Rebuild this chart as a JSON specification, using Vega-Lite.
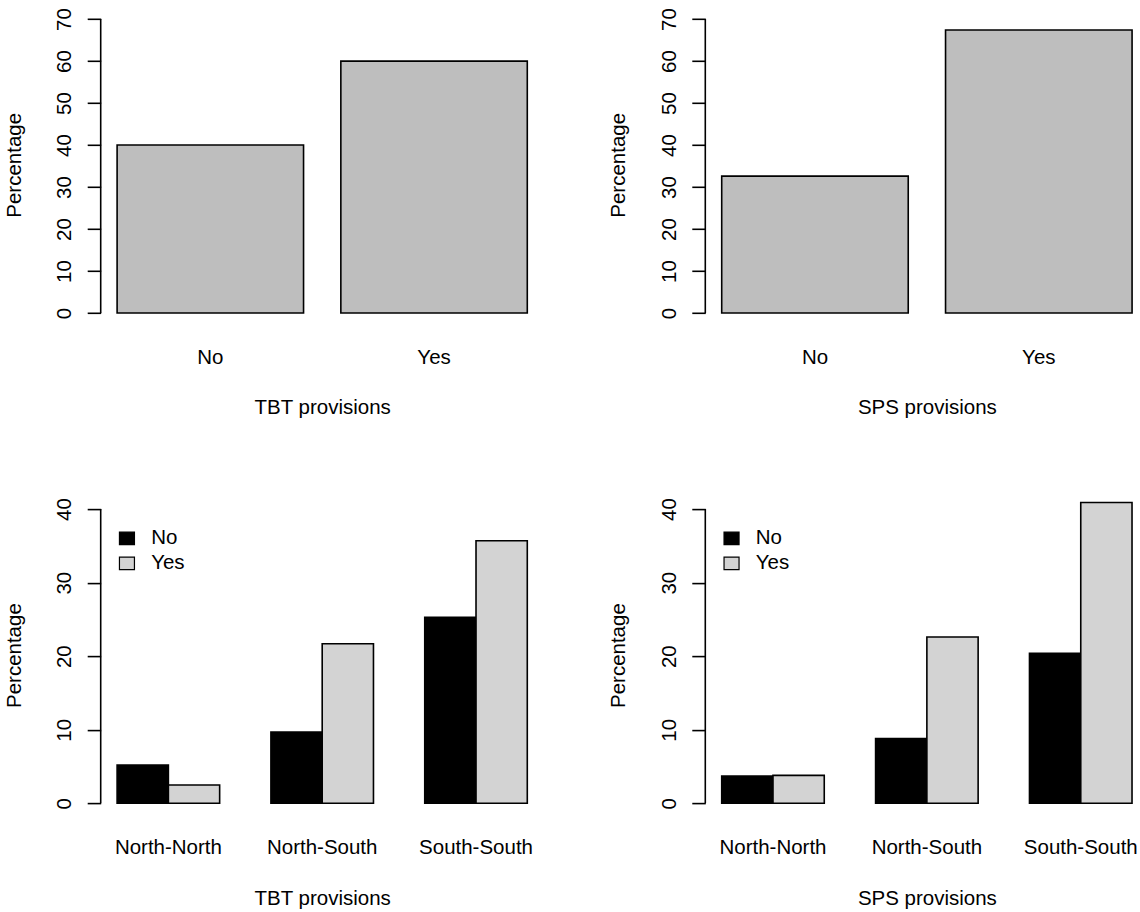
{
  "$schema": "https://vega.github.io/schema/vega-lite/v6.json",
  "padding": {"left": 3.7, "top": 4.8, "right": 0, "bottom": 0},
  "background": "white",
  "datasets": {
    "tbt": [{"provision": "No", "percentage": 40.0}, {"provision": "Yes", "percentage": 60.0}],
    "sps": [{"provision": "No", "percentage": 32.6}, {"provision": "Yes", "percentage": 67.4}],
    "tbt_pair": [
      {"pair": "North-North", "provision": "No", "percentage": 5.2},
      {"pair": "North-North", "provision": "Yes", "percentage": 2.5},
      {"pair": "North-South", "provision": "No", "percentage": 9.7},
      {"pair": "North-South", "provision": "Yes", "percentage": 21.7},
      {"pair": "South-South", "provision": "No", "percentage": 25.3},
      {"pair": "South-South", "provision": "Yes", "percentage": 35.7}
    ],
    "sps_pair": [
      {"pair": "North-North", "provision": "No", "percentage": 3.7},
      {"pair": "North-North", "provision": "Yes", "percentage": 3.8},
      {"pair": "North-South", "provision": "No", "percentage": 8.8},
      {"pair": "North-South", "provision": "Yes", "percentage": 22.6},
      {"pair": "South-South", "provision": "No", "percentage": 20.4},
      {"pair": "South-South", "provision": "Yes", "percentage": 40.9}
    ]
  },
  "columns": 2,
  "bounds": "flush",
  "spacing": {"row": 170.3, "column": 161.6},
  "resolve": {"scale": {"color": "independent"}, "legend": {"color": "independent"}},
  "concat": [
    {
      "width": 443, "height": 320,
      "data": {"name": "tbt"},
      "layer": [
        {
          "mark": {"type": "bar", "fill": "#bebebe", "stroke": "black", "strokeWidth": 1.6},
          "encoding": {
            "x": {"field": "provision", "type": "nominal", "sort": ["No", "Yes"],
                  "scale": {"paddingInner": 0.16667, "paddingOuter": 0.07333},
                  "axis": {"title": "TBT provisions"}},
            "y": {"field": "percentage", "type": "quantitative",
                  "scale": {"domain": [-2.8, 73.4], "nice": false},
                  "axis": {"title": "Percentage", "values": [0, 10, 20, 30, 40, 50, 60, 70]}}
          }
        },
        {
          "data": {"values": [{}]},
          "mark": {"type": "rule", "stroke": "black", "strokeWidth": 1.6},
          "encoding": {
            "x": {"datum": 0, "type": "quantitative", "scale": {"domain": [0, 1]}, "axis": null},
            "y": {"datum": 0, "type": "quantitative"},
            "y2": {"datum": 70}
          }
        }
      ],
      "resolve": {"scale": {"x": "independent"}}
    },
    {
      "width": 434.7, "height": 320,
      "data": {"name": "sps"},
      "layer": [
        {
          "mark": {"type": "bar", "fill": "#bebebe", "stroke": "black", "strokeWidth": 1.6},
          "encoding": {
            "x": {"field": "provision", "type": "nominal", "sort": ["No", "Yes"],
                  "scale": {"paddingInner": 0.16667, "paddingOuter": 0.07333, "range": [0, 443.2]},
                  "axis": {"title": "SPS provisions"}},
            "y": {"field": "percentage", "type": "quantitative",
                  "scale": {"domain": [-2.8, 73.4], "nice": false},
                  "axis": {"title": "Percentage", "values": [0, 10, 20, 30, 40, 50, 60, 70]}}
          }
        },
        {
          "data": {"values": [{}]},
          "mark": {"type": "rule", "stroke": "black", "strokeWidth": 1.6},
          "encoding": {
            "x": {"datum": 0, "type": "quantitative", "scale": {"domain": [0, 1]}, "axis": null},
            "y": {"datum": 0, "type": "quantitative"},
            "y2": {"datum": 70}
          }
        }
      ],
      "resolve": {"scale": {"x": "independent"}}
    },
    {
      "width": 443, "height": 320,
      "data": {"name": "tbt_pair"},
      "layer": [
        {
          "mark": {"type": "bar", "stroke": "black", "strokeWidth": 1.6},
          "encoding": {
            "x": {"field": "pair", "type": "nominal", "sort": ["North-North", "North-South", "South-South"],
                  "scale": {"paddingInner": 0.33333, "paddingOuter": 0.10667},
                  "axis": {"title": "TBT provisions"}},
            "xOffset": {"field": "provision", "type": "nominal", "sort": ["No", "Yes"],
                        "scale": {"paddingInner": 0, "paddingOuter": 0}},
            "y": {"field": "percentage", "type": "quantitative",
                  "scale": {"domain": [-1.6, 41.9], "nice": false},
                  "axis": {"title": "Percentage", "values": [0, 10, 20, 30, 40]}},
            "color": {"field": "provision", "type": "nominal",
                      "scale": {"domain": ["No", "Yes"], "range": ["#000000", "#d3d3d3"]},
                      "legend": {"orient": "none", "legendX": 16, "legendY": 33, "title": null,
                                 "symbolType": "M-1,-0.833H1V0.833H-1Z", "symbolSize": 225, "symbolStrokeColor": "black",
                                 "symbolStrokeWidth": 1.2, "symbolOpacity": 1, "labelFontSize": 20.5,
                                 "labelFont": "Liberation Sans", "labelColor": "black",
                                 "labelOffset": 14, "rowPadding": 4, "padding": 0}}
          }
        },
        {
          "data": {"values": [{}]},
          "mark": {"type": "rule", "stroke": "black", "strokeWidth": 1.6},
          "encoding": {
            "x": {"datum": 0, "type": "quantitative", "scale": {"domain": [0, 1]}, "axis": null},
            "y": {"datum": 0, "type": "quantitative"},
            "y2": {"datum": 40}
          }
        }
      ],
      "resolve": {"scale": {"x": "independent"}}
    },
    {
      "width": 434.7, "height": 320,
      "data": {"name": "sps_pair"},
      "layer": [
        {
          "mark": {"type": "bar", "stroke": "black", "strokeWidth": 1.6},
          "encoding": {
            "x": {"field": "pair", "type": "nominal", "sort": ["North-North", "North-South", "South-South"],
                  "scale": {"paddingInner": 0.33333, "paddingOuter": 0.10667, "range": [0, 443.2]},
                  "axis": {"title": "SPS provisions"}},
            "xOffset": {"field": "provision", "type": "nominal", "sort": ["No", "Yes"],
                        "scale": {"paddingInner": 0, "paddingOuter": 0}},
            "y": {"field": "percentage", "type": "quantitative",
                  "scale": {"domain": [-1.6, 41.9], "nice": false},
                  "axis": {"title": "Percentage", "values": [0, 10, 20, 30, 40]}},
            "color": {"field": "provision", "type": "nominal",
                      "scale": {"domain": ["No", "Yes"], "range": ["#000000", "#d3d3d3"]},
                      "legend": {"orient": "none", "legendX": 16, "legendY": 33, "title": null,
                                 "symbolType": "M-1,-0.833H1V0.833H-1Z", "symbolSize": 225, "symbolStrokeColor": "black",
                                 "symbolStrokeWidth": 1.2, "symbolOpacity": 1, "labelFontSize": 20.5,
                                 "labelFont": "Liberation Sans", "labelColor": "black",
                                 "labelOffset": 14, "rowPadding": 4, "padding": 0}}
          }
        },
        {
          "data": {"values": [{}]},
          "mark": {"type": "rule", "stroke": "black", "strokeWidth": 1.6},
          "encoding": {
            "x": {"datum": 0, "type": "quantitative", "scale": {"domain": [0, 1]}, "axis": null},
            "y": {"datum": 0, "type": "quantitative"},
            "y2": {"datum": 40}
          }
        }
      ],
      "resolve": {"scale": {"x": "independent"}}
    }
  ],
  "config": {
    "font": "Liberation Sans",
    "view": {"stroke": null},
    "axis": {
      "labelFont": "Liberation Sans", "titleFont": "Liberation Sans",
      "labelFontSize": 20.5, "titleFontSize": 20.5, "titleFontWeight": "normal",
      "labelColor": "black", "titleColor": "black", "tickColor": "black", "tickWidth": 1.6,
      "grid": false, "domain": false, "labelOverlap": false
    },
    "axisY": {
      "tickSize": 13.5, "labelPadding": 16.5, "labelAngle": -90, "labelAlign": "center",
      "labelBaseline": "alphabetic", "titleAngle": -90, "titleBaseline": "alphabetic", "titlePadding": 34.6
    },
    "axisX": {
      "ticks": false, "tickSize": 0, "labelPadding": 38.5, "labelAngle": 0,
      "labelBaseline": "alphabetic", "titleBaseline": "alphabetic", "titlePadding": 46
    }
  }
}
